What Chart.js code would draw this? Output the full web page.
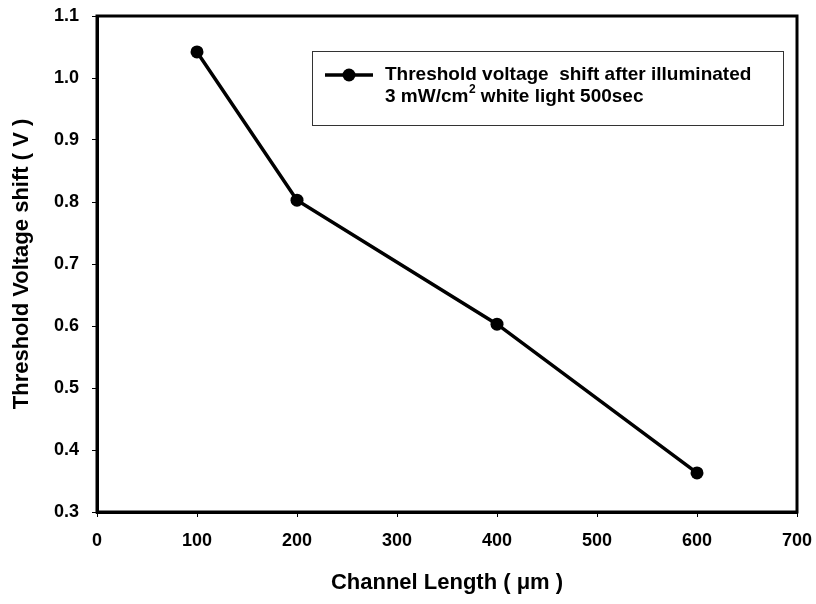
<!DOCTYPE html>
<html>
<head>
<meta charset="utf-8">
<script src="https://cdn.jsdelivr.net/npm/chart.js@4/dist/chart.umd.min.js"></script>
<style>
  html, body { margin: 0; padding: 0; background: #fff; }
  #wrap { width: 816px; height: 604px; }
</style>
</head>
<body>
<div id="wrap"><canvas id="vthChart" width="816" height="604"></canvas></div>
<script>
// channel length (um) vs threshold voltage shift (V)
const channelLength = [100, 200, 400, 600];
const vthShift = [1.042, 0.803, 0.603, 0.363];
const xTicks = [0, 100, 200, 300, 400, 500, 600, 700];
const yTicks = [0.3, 0.4, 0.5, 0.6, 0.7, 0.8, 0.9, 1.0, 1.1];
const legendLines = ['Threshold voltage  shift after illuminated', '3 mW/cm', '2', ' white light 500sec'];

const FONT = "'Liberation Sans', Arial, sans-serif";

// frame around the plot + boxed legend inside it
const framePlugin = {
    id: 'frame',
    afterDatasetsDraw(chart) {
        const { ctx, chartArea: a } = chart;
        ctx.save();
        ctx.strokeStyle = '#000';
        ctx.lineWidth = 3;
        ctx.strokeRect(a.left, a.top, a.right - a.left, a.bottom - a.top);

        const bx = a.left + 215, by = a.top + 35, bw = 471, bh = 74;
        ctx.lineWidth = 1;
        ctx.strokeStyle = '#333';
        ctx.strokeRect(bx + 0.5, by + 0.5, bw, bh);

        const ly = by + 24;
        ctx.strokeStyle = '#000';
        ctx.lineWidth = 3.5;
        ctx.beginPath();
        ctx.moveTo(bx + 13, ly);
        ctx.lineTo(bx + 61, ly);
        ctx.stroke();
        ctx.beginPath();
        ctx.arc(bx + 37, ly, 6.5, 0, Math.PI * 2);
        ctx.fillStyle = '#000';
        ctx.fill();

        ctx.textBaseline = 'middle';
        ctx.textAlign = 'left';
        ctx.font = 'bold 19px ' + FONT;
        let tx = bx + 73;
        ctx.fillText(legendLines[0], tx, ly);
        const l2 = ly + 22;
        ctx.fillText(legendLines[1], tx, l2);
        tx += ctx.measureText(legendLines[1]).width;
        ctx.font = 'bold 12px ' + FONT;
        ctx.fillText(legendLines[2], tx + 0.5, l2 - 7);
        tx += ctx.measureText(legendLines[2]).width + 0.5;
        ctx.font = 'bold 19px ' + FONT;
        ctx.fillText(legendLines[3], tx, l2);
        ctx.restore();
    }
};

new Chart(document.getElementById('vthChart'), {
    type: 'line',
    data: {
        datasets: [{
            data: channelLength.map((x, i) => ({ x: x, y: vthShift[i] })),
            borderColor: '#000',
            backgroundColor: '#000',
            borderWidth: 3.5,
            pointRadius: 6.5,
            pointHoverRadius: 6.5,
            pointBackgroundColor: '#000',
            pointBorderWidth: 0,
            tension: 0
        }]
    },
    options: {
        responsive: false,
        animation: false,
        layout: { autoPadding: false, padding: { top: 16, right: 19, left: 0, bottom: 0 } },
        plugins: {
            legend: { display: false },
            tooltip: { enabled: false }
        },
        scales: {
            x: {
                type: 'linear',
                min: xTicks[0],
                max: xTicks[xTicks.length - 1],
                afterBuildTicks: s => { s.ticks = xTicks.map(v => ({ value: v })); },
                afterFit: s => { s.height = 92; s.paddingLeft = 0; s.paddingRight = 0; },
                grid: { drawOnChartArea: false, drawTicks: true, tickLength: 5, color: '#000', lineWidth: 1 },
                border: { display: true, color: '#000', width: 3 },
                ticks: {
                    padding: 13,
                    color: '#000',
                    font: { family: FONT, size: 18, weight: 'bold' },
                    callback: v => String(v)
                },
                title: {
                    display: true,
                    text: 'Channel Length ( μm )',
                    color: '#000',
                    font: { family: FONT, size: 22, weight: 'bold' },
                    padding: { top: 0, bottom: 8 }
                }
            },
            y: {
                type: 'linear',
                min: yTicks[0],
                max: yTicks[yTicks.length - 1],
                afterBuildTicks: s => { s.ticks = yTicks.map(v => ({ value: v })); },
                afterFit: s => { s.width = 97; s.paddingTop = 0; s.paddingBottom = 0; },
                grid: { drawOnChartArea: false, drawTicks: true, tickLength: 5, color: '#000', lineWidth: 1 },
                border: { display: true, color: '#000', width: 3 },
                ticks: {
                    padding: 13,
                    color: '#000',
                    font: { family: FONT, size: 18, weight: 'bold' },
                    callback: v => Number(v).toFixed(1)
                },
                title: {
                    display: true,
                    text: 'Threshold Voltage shift ( V )',
                    color: '#000',
                    font: { family: FONT, size: 22, weight: 'bold' },
                    padding: { top: 9, bottom: 0 }
                }
            }
        }
    },
    plugins: [framePlugin]
});
</script>
</body>
</html>
